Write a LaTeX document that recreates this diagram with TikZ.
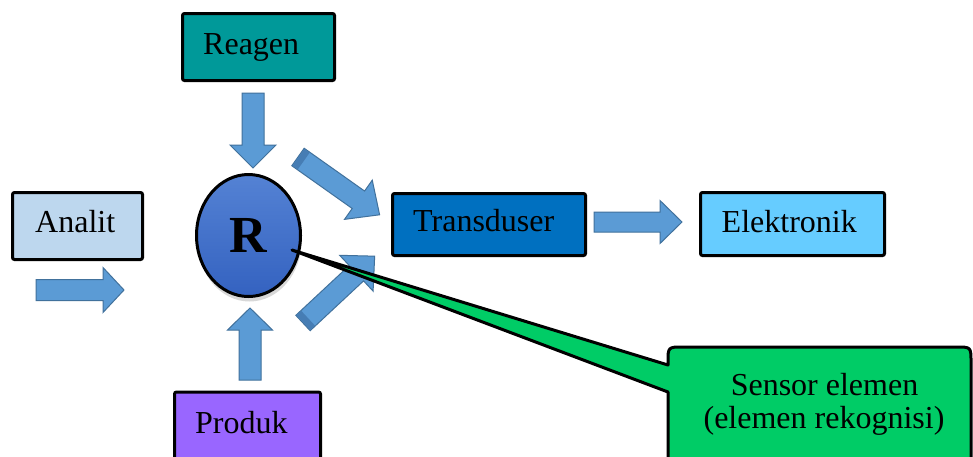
\documentclass[tikz,border=0pt]{standalone}
\usepackage{fontspec}
\setmainfont{Liberation Serif}
\usetikzlibrary{shapes.geometric,shadows}
\definecolor{reagenC}{RGB}{0,153,153}
\definecolor{analitC}{RGB}{189,215,238}
\definecolor{transC}{RGB}{0,112,192}
\definecolor{elekC}{RGB}{102,204,255}
\definecolor{produkC}{RGB}{153,102,255}
\definecolor{arrowC}{RGB}{91,155,213}
\definecolor{arrowD}{RGB}{65,113,156}
\definecolor{arrowS}{RGB}{70,125,180}
\definecolor{circTop}{RGB}{84,130,212}
\definecolor{circBot}{RGB}{52,98,192}
\definecolor{calloutC}{RGB}{0,204,102}
\newcommand\blockarr[7]{%
\begin{scope}[shift={(#1,#2)},rotate=#3]
\draw[blockarrow] (0,-#5) -- ({#4-#7},-#5) -- ({#4-#7},-#6) -- (#4,0) -- ({#4-#7},#6) -- ({#4-#7},#5) -- (0,#5) -- cycle;
\end{scope}}
\newcommand\blockarrdeep[7]{%
\begin{scope}[shift={(#1,#2)},rotate=#3]
\draw[blockarrow] (0,-#5) -- ({#4-#7},-#5) -- ({#4-#7},-#6) -- (#4,0) -- ({#4-#7},#6) -- ({#4-#7},#5) -- (0,#5) -- cycle;
\fill[arrowS] (0.5,-#5+0.5) rectangle (7,#5-0.5);
\end{scope}}
\begin{document}
\begin{tikzpicture}[x=1pt,y=-1pt,
  box/.style={draw=black, line width=3pt, rounded corners=2pt, inner sep=0pt},
  lbl/.style={inner sep=0pt, anchor=base west, font=\fontsize{32}{38}\selectfont},
  blockarrow/.style={fill=arrowC, draw=arrowD, line width=1pt, line join=miter},
  ]
\useasboundingbox (0,0) rectangle (973,456);
\fill[white] (0,0) rectangle (973,456);

% boxes
\node[box, fill=reagenC, minimum width=152, minimum height=67] (reagen) at (258.5,47) {};
\node[box, fill=analitC, minimum width=130, minimum height=67] (analit) at (77.5,226) {};
\node[box, fill=transC, minimum width=193, minimum height=62] (trans) at (489,224.5) {};
\node[box, fill=elekC, minimum width=184, minimum height=63] (elek) at (792.5,224) {};
\node[box, fill=produkC, minimum width=146, minimum height=88] (produk) at (247.5,436) {};

% labels
\node[lbl] (reagenT) at (203,54) {Reagen};
\node[lbl] (analitT) at (35,232.7) {Analit};
\node[lbl] (transT) at (413,231.7) {Transduser};
\node[lbl] (elekT) at (721.5,232.7) {Elektronik};
\node[lbl] (produkT) at (195,433.3) {Produk};

% block arrows
\blockarr{253}{93}{-90}{75}{11}{23}{23}
\blockarr{36}{290}{0}{88}{10.5}{22.5}{21}
\blockarr{250}{380}{90}{72}{11}{22.5}{22}
\blockarr{594}{222}{0}{88}{10}{21.5}{22}
\blockarrdeep{298}{157}{-35.3}{100}{10.7}{24}{26}
\blockarrdeep{303}{323}{43}{98}{10.5}{24.5}{25}

% reseptor circle
\node[ellipse, draw=black, line width=3pt, top color=circTop, bottom color=circBot,
  minimum width=104, minimum height=122, inner sep=0pt,
  font=\fontsize{52}{60}\selectfont\bfseries,
  drop shadow={shadow xshift=1pt, shadow yshift=-5pt, opacity=0.3}] (R) at (248.5,235.5) {R};

% callout
\coordinate (ptip) at (292,250);
\draw[line width=3pt, fill=calloutC, line join=round]
  (668,392) -- (ptip) -- (668,365) -- (668,362) .. controls (668,347) .. (683,347)
  -- (956,347) .. controls (971,347) .. (971,362) -- (971,490) -- (668,490) -- cycle;
\node[inner sep=0pt, anchor=base, font=\fontsize{32}{38}\selectfont] (sens1) at (824.5,395) {Sensor elemen};
\node[inner sep=0pt, anchor=base, font=\fontsize{32}{38}\selectfont] (sens2) at (824,428) {(elemen rekognisi)};
\end{tikzpicture}
\end{document}
